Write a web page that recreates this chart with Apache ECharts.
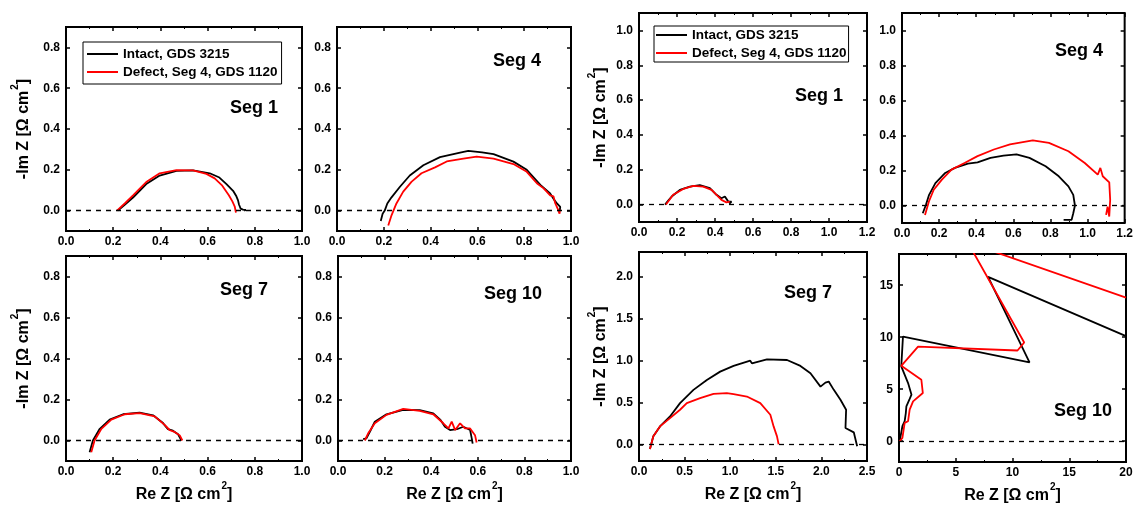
<!DOCTYPE html>
<html>
<head>
<meta charset="utf-8">
<script src="https://cdn.jsdelivr.net/npm/echarts@6/dist/echarts.min.js"></script>
<style>
  html, body { margin: 0; padding: 0; background: #fff; }
  #main { width: 1136px; height: 506px; }
</style>
</head>
<body>
<div id="main"></div>
<script>
// series names
const nameIntact = 'Intact, GDS 3215'
const nameDefect = 'Defect, Seg 4, GDS 1120'

// left block, [Re Z, -Im Z]
const a1Intact = [[0.22,0.0],[0.25,0.03],[0.284,0.064],[0.34,0.13],[0.397,0.172],[0.468,0.195],[0.538,0.197],[0.609,0.183],[0.65,0.162],[0.68,0.13],[0.708,0.097],[0.722,0.07],[0.729,0.05],[0.733,0.03],[0.74,0.01],[0.75,0.005],[0.762,0.003],[0.755,0.0]]
const a1Defect = [[0.216,0.0],[0.25,0.036],[0.284,0.075],[0.34,0.14],[0.397,0.183],[0.468,0.198],[0.538,0.197],[0.595,0.18],[0.63,0.158],[0.66,0.125],[0.69,0.075],[0.705,0.045],[0.715,0.02],[0.72,-0.01]]
const a4Intact = [[0.187,-0.051],[0.195,-0.015],[0.204,0.0],[0.215,0.035],[0.233,0.065],[0.269,0.117],[0.311,0.172],[0.369,0.222],[0.44,0.262],[0.526,0.284],[0.561,0.293],[0.62,0.285],[0.669,0.277],[0.754,0.24],[0.811,0.2],[0.84,0.163],[0.869,0.126],[0.911,0.084],[0.93,0.05],[0.94,0.035],[0.954,0.018],[0.952,0.0]]
const a4Defect = [[0.219,-0.073],[0.233,-0.023],[0.254,0.035],[0.283,0.093],[0.319,0.142],[0.361,0.183],[0.419,0.212],[0.469,0.241],[0.54,0.255],[0.597,0.265],[0.669,0.255],[0.754,0.228],[0.811,0.19],[0.854,0.134],[0.883,0.109],[0.911,0.075],[0.925,0.07],[0.933,0.035],[0.943,0.01],[0.951,-0.015],[0.953,0.005]]
const a7Intact = [[0.1,-0.057],[0.114,0.0],[0.143,0.057],[0.185,0.102],[0.242,0.128],[0.312,0.136],[0.369,0.123],[0.411,0.085],[0.432,0.055],[0.453,0.048],[0.475,0.03],[0.489,0.0]]
const a7Defect = [[0.107,-0.057],[0.121,0.0],[0.15,0.057],[0.192,0.102],[0.249,0.128],[0.312,0.134],[0.376,0.118],[0.418,0.076],[0.44,0.05],[0.46,0.042],[0.482,0.025],[0.493,0.0]]
const a10Intact = [[0.108,0.007],[0.122,0.01],[0.14,0.05],[0.158,0.092],[0.208,0.128],[0.28,0.149],[0.351,0.148],[0.409,0.132],[0.44,0.1],[0.459,0.067],[0.481,0.051],[0.51,0.055],[0.538,0.067],[0.567,0.051],[0.574,0.01],[0.578,-0.015]]
const a10Defect = [[0.115,0.0],[0.129,0.034],[0.158,0.084],[0.208,0.125],[0.28,0.154],[0.351,0.144],[0.409,0.128],[0.452,0.084],[0.474,0.059],[0.488,0.092],[0.503,0.051],[0.524,0.084],[0.545,0.059],[0.567,0.059],[0.588,0.026],[0.595,-0.01]]

// right block
const b1Intact = [[0.137,0.0],[0.155,0.025],[0.172,0.046],[0.215,0.084],[0.268,0.103],[0.32,0.112],[0.373,0.094],[0.408,0.056],[0.434,0.036],[0.452,0.046],[0.47,0.017],[0.487,0.017],[0.475,0.005]]
const b1Defect = [[0.142,0.0],[0.18,0.056],[0.233,0.09],[0.286,0.107],[0.338,0.103],[0.382,0.084],[0.417,0.046],[0.434,0.027],[0.46,0.013],[0.478,0.017]]
const b4Intact = [[0.112,-0.044],[0.129,0.004],[0.146,0.061],[0.18,0.128],[0.233,0.186],[0.285,0.215],[0.355,0.239],[0.407,0.247],[0.477,0.272],[0.547,0.285],[0.617,0.292],[0.687,0.272],[0.774,0.224],[0.845,0.167],[0.897,0.109],[0.923,0.061],[0.932,0.0],[0.923,-0.044],[0.914,-0.082],[0.871,-0.082]]
const b4Defect = [[0.124,-0.054],[0.145,0.023],[0.171,0.09],[0.215,0.148],[0.267,0.205],[0.337,0.243],[0.407,0.282],[0.495,0.32],[0.582,0.349],[0.705,0.372],[0.792,0.358],[0.897,0.31],[0.985,0.243],[1.055,0.176],[1.069,0.215],[1.082,0.167],[1.117,0.132],[1.122,0.033],[1.117,-0.063],[1.108,-0.006],[1.1,-0.054]]
const b7Intact = [[0.12,-0.056],[0.157,0.095],[0.23,0.214],[0.34,0.333],[0.45,0.492],[0.597,0.651],[0.744,0.77],[0.89,0.869],[1.037,0.937],[1.22,1.0],[1.238,0.968],[1.403,1.016],[1.623,1.008],[1.77,0.937],[1.88,0.849],[1.99,0.69],[2.044,0.738],[2.08,0.75],[2.136,0.651],[2.209,0.532],[2.271,0.413],[2.264,0.194],[2.355,0.143],[2.392,-0.024]]
const b7Defect = [[0.12,-0.056],[0.157,0.095],[0.23,0.214],[0.34,0.313],[0.45,0.413],[0.524,0.492],[0.67,0.552],[0.817,0.603],[0.963,0.611],[1.037,0.599],[1.183,0.571],[1.33,0.492],[1.44,0.353],[1.476,0.214],[1.513,0.095],[1.531,0.0]]
const b10Intact = [[0.06,0],[0.3,1.44],[0.5,1.92],[0.6,2.7],[0.65,3.35],[0.94,4.06],[1.1,4.47],[0.8,5.59],[0.2,7.19],[0.35,10.06],[11.5,7.57],[7.85,15.8],[20,10.1]]
const b10Defect = [[0.06,0],[0.3,0.32],[0.5,1.76],[0.8,1.92],[0.94,3.04],[1.24,3.83],[2.1,4.63],[1.97,5.91],[0.2,7.25],[1.68,9.1],[10.44,8.72],[11.03,9.49],[6.07,19.1],[20,13.8]]

// tick labels on the y axes
const yTicksA = [0, 0.2, 0.4, 0.6, 0.8]
const yTicksB = [0, 0.2, 0.4, 0.6, 0.8, 1.0]
const yTicksB7 = [0, 0.5, 1.0, 1.5, 2.0]
const yTicksB10 = [0, 5, 10, 15]

const font = 'Liberation Sans, Arial, sans-serif'

const panels = [
  { grid: [66, 27, 236, 204], x: [0, 1, 0.2], y: [-0.1, 0.9], yTicks: yTicksA, dec: 1, black: a1Intact, red: a1Defect, seg: 'Seg 1', segPos: [230, 110], yName: true },
  { grid: [337, 27, 234, 204], x: [0, 1, 0.2], y: [-0.1, 0.9], yTicks: yTicksA, dec: 1, black: a4Intact, red: a4Defect, seg: 'Seg 4', segPos: [493, 63] },
  { grid: [66, 256, 236, 205], x: [0, 1, 0.2], y: [-0.1, 0.9], yTicks: yTicksA, dec: 1, black: a7Intact, red: a7Defect, seg: 'Seg 7', segPos: [220, 292], yName: true, xName: true },
  { grid: [338, 256, 233, 205], x: [0, 1, 0.2], y: [-0.1, 0.9], yTicks: yTicksA, dec: 1, black: a10Intact, red: a10Defect, seg: 'Seg 10', segPos: [484, 296], xName: true },
  { grid: [639, 13, 228, 209], x: [0, 1.2, 0.2], y: [-0.1, 1.1], yTicks: yTicksB, dec: 1, black: b1Intact, red: b1Defect, seg: 'Seg 1', segPos: [795, 98], yName: true },
  { grid: [902, 13, 231, 210], x: [0, 1.2, 0.2], y: [-0.1, 1.1], yTicks: yTicksB, dec: 1, black: b4Intact, red: b4Defect, seg: 'Seg 4', segPos: [1055, 53] },
  { grid: [639, 252, 228, 209], x: [0, 2.5, 0.5], y: [-0.2, 2.3], yTicks: yTicksB7, dec: 1, black: b7Intact, red: b7Defect, seg: 'Seg 7', segPos: [784, 295], yName: true, xName: true },
  { grid: [899, 254, 227, 208], x: [0, 20, 5], y: [-2, 18], yTicks: yTicksB10, dec: 0, black: b10Intact, red: b10Defect, seg: 'Seg 10', segPos: [1054, 413], xName: true }
]

// axis names with a raised 2
const nameRe = '{b|Re Z [Ω cm}{sup|2}{b|]}'
const nameIm = '{b|-Im Z [Ω cm}{sup|2}{b|]}'
const nameRich = {
  b: { fontSize: 16, lineHeight: 22, fontWeight: 'bold', fontFamily: font, verticalAlign: 'bottom', color: '#000' },
  sup: { fontSize: 10, lineHeight: 10, fontWeight: 'bold', fontFamily: font, verticalAlign: 'top', padding: [0, 0, 0, 1], color: '#000' }
}
const tickLine = { color: '#000', width: 1.5 }

const grids = [], xAxes = [], yAxes = [], series = [], graphics = []

panels.forEach((p, i) => {
  grids.push({ left: p.grid[0], top: p.grid[1], width: p.grid[2], height: p.grid[3], show: true, borderColor: '#000', borderWidth: 2 })
  const fmt = v => p.dec ? v.toFixed(p.dec) : String(Math.round(v))
  const xBase = {
    type: 'value', gridIndex: i, min: p.x[0], max: p.x[1], interval: p.x[2],
    axisLine: { show: false, onZero: false }, splitLine: { show: false },
    axisTick: { inside: true, length: 4, lineStyle: tickLine },
    minorTick: { show: true, splitNumber: 2, length: 2, lineStyle: { color: '#000', width: 1 } }
  }
  xAxes.push(Object.assign({}, xBase, {
    position: 'bottom',
    axisLabel: { formatter: fmt, margin: 5, color: '#000', fontWeight: 'bold', fontSize: 12, fontFamily: font, showMinLabel: true, showMaxLabel: true },
    name: p.xName ? nameRe : '', nameLocation: 'middle', nameGap: 20,
    nameTextStyle: { rich: nameRich }
  }))
  xAxes.push(Object.assign({}, xBase, { position: 'top', axisLabel: { show: false } }))
  const yBase = {
    type: 'value', gridIndex: i, min: p.y[0], max: p.y[1],
    axisLine: { show: false, onZero: false }, splitLine: { show: false },
    axisTick: { inside: true, length: 4, lineStyle: tickLine, customValues: p.yTicks }
  }
  yAxes.push(Object.assign({}, yBase, {
    position: 'left',
    axisLabel: { customValues: p.yTicks, formatter: fmt, margin: 6, color: '#000', fontWeight: 'bold', fontSize: 12, fontFamily: font },
    name: p.yName ? nameIm : '', nameLocation: 'middle', nameRotate: 90,
    nameGap: p.x[1] > 1 ? 30 : 34,
    nameTextStyle: { rich: nameRich }
  }))
  yAxes.push(Object.assign({}, yBase, { position: 'right', axisLabel: { show: false } }))

  series.push({
    name: nameIntact, type: 'line', xAxisIndex: 2 * i, yAxisIndex: 2 * i, data: p.black,
    showSymbol: false, color: '#000', lineStyle: { color: '#000', width: 1.8 }, z: 3
  })
  series.push({
    name: nameDefect, type: 'line', xAxisIndex: 2 * i, yAxisIndex: 2 * i, data: p.red,
    showSymbol: false, color: '#ff0000', lineStyle: { color: '#ff0000', width: 1.8 }, z: 4,
    markLine: {
      silent: true, symbol: ['none', 'none'], label: { show: false },
      lineStyle: { color: '#000', type: [5, 5], width: 1.3 },
      data: [{ yAxis: 0 }]
    }
  })
  graphics.push({
    type: 'text', left: p.segPos[0], top: p.segPos[1] - 11,
    style: { text: p.seg, font: 'bold 18px ' + font, fill: '#000' }
  })
})

const legendBase = {
  orient: 'vertical', icon: 'rect', itemWidth: 31, itemHeight: 2,
  borderColor: '#000', borderWidth: 1, backgroundColor: '#fff', selectedMode: false,
  textStyle: { color: '#000', fontWeight: 'bold', fontSize: 13.5, fontFamily: font },
  data: [nameIntact, nameDefect]
}

const chart = echarts.init(document.getElementById('main'), null, { renderer: 'canvas' })
chart.setOption({
  animation: false,
  backgroundColor: '#fff',
  grid: grids,
  xAxis: xAxes,
  yAxis: yAxes,
  legend: [
    Object.assign({}, legendBase, { left: 83, top: 42, padding: [5, 4], itemGap: 4 }),
    Object.assign({}, legendBase, { left: 654, top: 26, padding: [2, 2], itemGap: 4 })
  ],
  graphic: graphics,
  series: series
})
</script>
</body>
</html>
